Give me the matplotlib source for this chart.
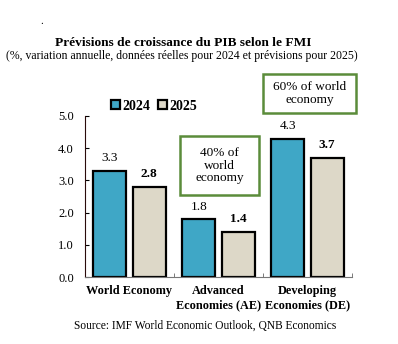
import matplotlib.pyplot as plt
import numpy as np
from matplotlib.patches import Rectangle

plt.rcParams['font.family'] = ['Liberation Serif', 'DejaVu Serif']

categories = ['World Economy', 'Advanced\nEconomies (AE)', 'Developing\nEconomies (DE)']
growth_2024 = [3.3, 1.8, 4.3]
growth_2025 = [2.8, 1.4, 3.7]
series_names = ['2024', '2025']
box_texts = ['40% of\nworld\neconomy', '60% of world\neconomy']

blue = '#3fa7c6'
beige = '#ddd8c8'
green = '#5b8c3a'

W, H = 398, 344
fig = plt.figure(figsize=(W / 100, H / 100), dpi=100)
ax = fig.add_axes([85 / W, 1 - 277 / H, (352 - 85) / W, (277 - 116) / H])

x = np.arange(len(categories))
w = 0.37
off = 0.22
b1 = ax.bar(x - off, growth_2024, w, color=blue, edgecolor='black', linewidth=1.6, label=series_names[0])
b2 = ax.bar(x + off, growth_2025, w, color=beige, edgecolor='black', linewidth=1.6, label=series_names[1])

for rect, v in zip(b1, growth_2024):
    ax.text(rect.get_x() + rect.get_width() / 2, v + 0.2, f'{v:.1f}', ha='center', va='bottom', fontsize=9.5)
for rect, v in zip(b2, growth_2025):
    ax.text(rect.get_x() + rect.get_width() / 2, v + 0.2, f'{v:.1f}', ha='center', va='bottom', fontsize=9.5,
            fontweight='bold')

ax.set_xlim(-0.5, 2.5)
ax.set_ylim(0, 5)
ax.set_yticks(np.arange(0, 5.01, 1.0))
ax.set_yticklabels([f'{t:.1f}' for t in np.arange(0, 5.01, 1.0)], fontsize=9)
ax.tick_params(axis='y', direction='in', length=3, width=0.8, pad=8)
ax.set_xticks(x)
ax.set_xticklabels(categories, fontsize=8.8, fontweight='bold', linespacing=1.2)
ax.tick_params(axis='x', length=0, pad=6)
ax.set_xticks([0.5, 1.5, 2.5], minor=True)
ax.tick_params(axis='x', which='minor', direction='in', length=3, color='#666666')
for s in ['top', 'right']:
    ax.spines[s].set_visible(False)
ax.spines['left'].set_color('#2a0a0a')
ax.spines['bottom'].set_color('#777777')

ax.legend(loc='center left', bbox_to_anchor=(26 / 267, 1 + 10 / 161), ncol=2, frameon=False,
          prop={'weight': 'bold', 'size': 10}, handlelength=0.65, handleheight=0.65, handletextpad=0.15,
          columnspacing=0.6, borderaxespad=0, borderpad=0)

# annotation boxes with share of world economy
for (x0, y0, x1, y1), txt in zip([(180, 136, 259, 195), (263, 74, 356, 113)], box_texts):
    fig.patches.append(Rectangle((x0 / W, 1 - y1 / H), (x1 - x0) / W, (y1 - y0) / H, transform=fig.transFigure,
                                 facecolor='white', edgecolor=green, linewidth=1.8))
    fig.text((x0 + x1) / 2 / W, 1 - (y0 + y1) / 2 / H, txt, ha='center', va='center', fontsize=9.5,
             linespacing=1.1)

fig.text(183 / W, 1 - 43 / H, 'Prévisions de croissance du PIB selon le FMI', ha='center', va='center',
         fontsize=9.6, fontweight='bold')
fig.text(182 / W, 1 - 56 / H, '(%, variation annuelle, données réelles pour 2024 et prévisions pour 2025)',
         ha='center', va='center', fontsize=8.5)
fig.text(205 / W, 1 - 326 / H, 'Source: IMF World Economic Outlook, QNB Economics', ha='center', va='center',
         fontsize=8.3)
fig.text(42 / W, 1 - 21 / H, '.', ha='center', va='center', fontsize=8)

fig.savefig('out.png', dpi=100)
